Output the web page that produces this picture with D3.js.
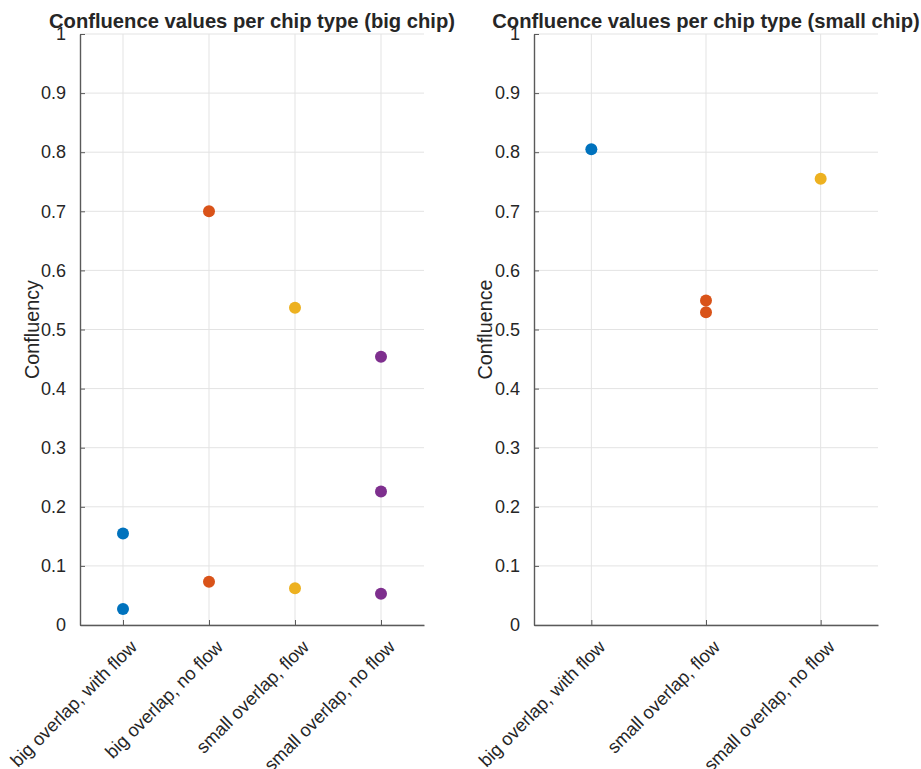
<!DOCTYPE html>
<html>
<head>
<meta charset="utf-8">
<script src="https://cdn.jsdelivr.net/npm/d3@7"></script>
<style>
  body { margin: 0; background: #fff; }
  text { font-family: "Liberation Sans", Arial, sans-serif; fill: #262626; }
</style>
</head>
<body>
<script>
// colours per category (MATLAB default order)
const colors = ['#0072BD', '#D95319', '#EDB120', '#7E2F8E'];

// left panel: big chip
const bigTitle = 'Confluence values per chip type (big chip)';
const bigYLabel = 'Confluency';
const bigCategories = ['big overlap, with flow', 'big overlap, no flow', 'small overlap, flow', 'small overlap, no flow'];
const bigValues = [
  [0.155, 0.027],
  [0.700, 0.073],
  [0.537, 0.062],
  [0.454, 0.226, 0.053]
];
const bigColorIdx = [0, 1, 2, 3];

// right panel: small chip
const smallTitle = 'Confluence values per chip type (small chip)';
const smallYLabel = 'Confluence';
const smallCategories = ['big overlap, with flow', 'small overlap, flow', 'small overlap, no flow'];
const smallValues = [
  [0.805],
  [0.549, 0.529],
  [0.755]
];
const smallColorIdx = [0, 1, 2];

const yTicks = [0, 0.1, 0.2, 0.3, 0.4, 0.5, 0.6, 0.7, 0.8, 0.9, 1];

const svg = d3.select('body').append('svg')
  .attr('width', 921)
  .attr('height', 769);

function panel(opts) {
  const { left, right, top, bottom, title, ylabel, categories, values, colorIdx, ylabelX } = opts;
  const g = svg.append('g');

  const x = d3.scaleLinear()
    .domain([0.5, categories.length + 0.5])
    .range([left, right]);
  const y = d3.scaleLinear()
    .domain([0, 1])
    .range([bottom, top]);

  // grid
  g.append('g').selectAll('line.h')
    .data(yTicks)
    .join('line')
    .attr('x1', left).attr('x2', right)
    .attr('y1', d => y(d)).attr('y2', d => y(d))
    .attr('stroke', '#e3e3e3').attr('stroke-width', 1);
  g.append('g').selectAll('line.v')
    .data(categories)
    .join('line')
    .attr('x1', (d, i) => x(i + 1)).attr('x2', (d, i) => x(i + 1))
    .attr('y1', top).attr('y2', bottom)
    .attr('stroke', '#e3e3e3').attr('stroke-width', 1);

  // y axis
  const yAxis = g.append('g')
    .attr('transform', `translate(${left},0)`)
    .call(d3.axisLeft(y).tickValues(yTicks).tickFormat(d3.format('')).tickSizeInner(-5).tickSizeOuter(0).tickPadding(14));
  yAxis.select('.domain').attr('stroke', '#5a5a5a').attr('stroke-width', 1.4);
  yAxis.selectAll('.tick line').attr('stroke', '#5a5a5a');
  yAxis.selectAll('.tick text').attr('font-size', 18).attr('fill', '#262626')
    .attr('font-family', '"Liberation Sans", Arial, sans-serif');

  // x axis
  const xAxis = g.append('g')
    .attr('transform', `translate(0,${bottom})`)
    .call(d3.axisBottom(x).tickValues(d3.range(1, categories.length + 1)).tickFormat(() => '').tickSizeInner(-5).tickSizeOuter(0));
  xAxis.select('.domain').attr('stroke', '#5a5a5a').attr('stroke-width', 1.4);
  xAxis.selectAll('.tick line').attr('stroke', '#5a5a5a');

  g.append('g').selectAll('text')
    .data(categories)
    .join('text')
    .attr('transform', (d, i) => `translate(${x(i + 1) + 6},${bottom + 14}) rotate(-45)`)
    .attr('text-anchor', 'end')
    .attr('dy', '0.7em')
    .attr('font-size', 18.3)
    .text(d => d);

  // points
  const pts = [];
  values.forEach((vals, i) => vals.forEach(v => pts.push({ c: i + 1, v, col: colors[colorIdx[i]] })));
  g.append('g').selectAll('circle')
    .data(pts)
    .join('circle')
    .attr('cx', d => x(d.c))
    .attr('cy', d => y(d.v))
    .attr('r', 6)
    .attr('fill', d => d.col);

  // title
  g.append('text')
    .attr('x', (left + right) / 2)
    .attr('y', top - 6)
    .attr('text-anchor', 'middle')
    .attr('font-size', 20.2)
    .attr('font-weight', 'bold')
    .attr('fill', '#000')
    .text(title);

  // y label
  g.append('text')
    .attr('transform', `translate(${ylabelX},${(top + bottom) / 2}) rotate(-90)`)
    .attr('text-anchor', 'middle')
    .attr('font-size', 19.8)
    .attr('fill', '#000')
    .text(ylabel);
}

panel({
  left: 80, right: 424, top: 34, bottom: 625,
  title: bigTitle, ylabel: bigYLabel, categories: bigCategories,
  values: bigValues, colorIdx: bigColorIdx, ylabelX: 39
});

panel({
  left: 534, right: 878, top: 34, bottom: 625,
  title: smallTitle, ylabel: smallYLabel, categories: smallCategories,
  values: smallValues, colorIdx: smallColorIdx, ylabelX: 492
});
</script>
</body>
</html>
